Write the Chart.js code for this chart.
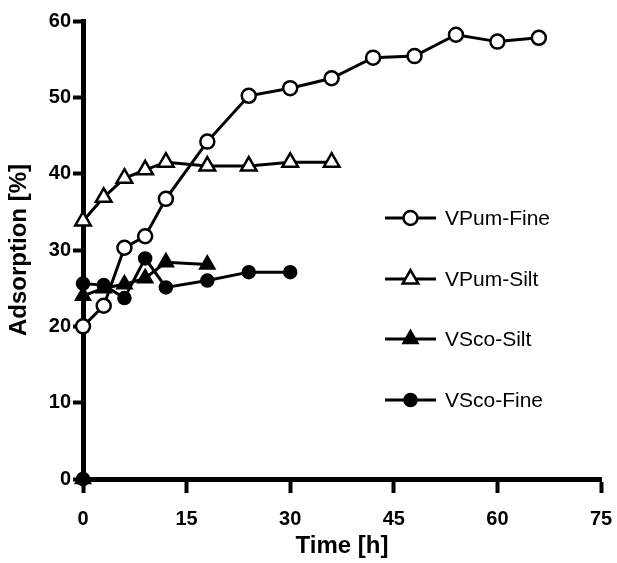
<!DOCTYPE html>
<html>
<head>
<meta charset="utf-8">
<script src="https://cdn.jsdelivr.net/npm/chart.js@4.4.0/dist/chart.umd.min.js"></script>
<style>
  html, body { margin: 0; padding: 0; background: #fff; }
</style>
</head>
<body>
<canvas id="chart" width="617" height="563"></canvas>
<script>
// --- data ---
const seriesNames = ['VPum-Fine', 'VPum-Silt', 'VSco-Silt', 'VSco-Fine'];

const vpumFineTime = [0, 3, 6, 9, 12, 18, 24, 30, 36, 42, 48, 54, 60, 66];
const vpumFine = [20, 22.7, 30.3, 31.8, 36.7, 44.2, 50.2, 51.2, 52.5, 55.2, 55.4, 58.2, 57.3, 57.8];

const vpumSiltTime = [0, 3, 6, 9, 12, 18, 24, 30, 36];
const vpumSilt = [33.8, 36.9, 39.4, 40.5, 41.5, 41.0, 41.0, 41.5, 41.5];

const vscoSiltTime = [0, 0, 3, 6, 9, 12, 18];
const vscoSilt = [0, 24, 25, 25.5, 26.3, 28.4, 28.1];

const vscoFineTime = [0, 0, 3, 6, 9, 12, 18, 24, 30];
const vscoFine = [0, 25.6, 25.4, 23.7, 28.9, 25.1, 26.0, 27.1, 27.1];

const xTicks = [0, 15, 30, 45, 60, 75];
const yTicks = [0, 10, 20, 30, 40, 50, 60];

const FONT = "Arial, 'Liberation Sans', Helvetica, sans-serif";

function toPoints(times, values) {
  return times.map((t, i) => ({ x: t, y: values[i] }));
}

function makeSet(name, times, values, style, radius, fill) {
  return {
    label: name,
    data: toPoints(times, values),
    borderColor: '#000',
    borderWidth: 3,
    pointStyle: style,
    pointRadius: radius,
    pointBorderWidth: 2.5,
    pointBorderColor: '#000',
    pointBackgroundColor: fill,
    showLine: true,
    tension: 0,
    clip: false
  };
}

function drawMarker(ctx, ds, x, y) {
  const r = ds.pointRadius;
  ctx.beginPath();
  if (ds.pointStyle === 'circle') {
    ctx.arc(x, y, r, 0, Math.PI * 2);
  } else {
    ctx.moveTo(x, y - r);
    ctx.lineTo(x + r * Math.sin(Math.PI * 2 / 3), y + r / 2);
    ctx.lineTo(x - r * Math.sin(Math.PI * 2 / 3), y + r / 2);
    ctx.closePath();
  }
  ctx.fillStyle = ds.pointBackgroundColor;
  ctx.fill();
  ctx.lineWidth = ds.pointBorderWidth;
  ctx.strokeStyle = '#000';
  ctx.stroke();
}

// legend sits inside the plot, to the right
const sideLegend = {
  id: 'sideLegend',
  afterDatasetsDraw(chart, args, opts) {
    const ctx = chart.ctx;
    chart.data.datasets.forEach((ds, i) => {
      const y = opts.rows[i];
      ctx.save();
      ctx.strokeStyle = '#000';
      ctx.lineWidth = 3;
      ctx.beginPath();
      ctx.moveTo(opts.x0, y);
      ctx.lineTo(opts.x1, y);
      ctx.stroke();
      drawMarker(ctx, ds, (opts.x0 + opts.x1) / 2, y);
      ctx.fillStyle = '#000';
      ctx.font = '21px ' + FONT;
      ctx.textBaseline = 'middle';
      ctx.fillText(ds.label, opts.textX, y + 1);
      ctx.restore();
    });
  }
};

new Chart(document.getElementById('chart'), {
  type: 'scatter',
  data: {
    datasets: [
      makeSet(seriesNames[0], vpumFineTime, vpumFine, 'circle', 7, '#fff'),
      makeSet(seriesNames[1], vpumSiltTime, vpumSilt, 'triangle', 9, '#fff'),
      makeSet(seriesNames[2], vscoSiltTime, vscoSilt, 'triangle', 8, '#000'),
      makeSet(seriesNames[3], vscoFineTime, vscoFine, 'circle', 6, '#000')
    ]
  },
  options: {
    responsive: false,
    animation: false,
    layout: { autoPadding: false, padding: { left: 0, top: 21, right: 16, bottom: 0 } },
    plugins: {
      legend: { display: false },
      tooltip: { enabled: false },
      sideLegend: { x0: 385, x1: 436, textX: 445, rows: [218, 279, 339, 400] }
    },
    scales: {
      x: {
        type: 'linear',
        min: 0,
        max: 75,
        afterBuildTicks: s => { s.ticks = xTicks.map(v => ({ value: v })); },
        afterFit: s => { s.height = 84; s.paddingLeft = 0; s.paddingRight = 0; },
        border: { display: true, color: '#000', width: 5 },
        grid: { drawOnChartArea: false, drawTicks: true, tickLength: 14, tickWidth: 4, tickColor: '#000' },
        ticks: { color: '#000', padding: 14, maxRotation: 0, font: { family: FONT, size: 20, weight: 'bold' } },
        title: {
          display: true,
          text: 'Time [h]',
          color: '#000',
          padding: { top: 0, bottom: 2 },
          font: { family: FONT, size: 24, weight: 'bold' }
        }
      },
      y: {
        type: 'linear',
        min: 0,
        max: 60,
        afterBuildTicks: s => { s.ticks = yTicks.map(v => ({ value: v })); },
        afterFit: s => { s.width = 83; s.paddingTop = 0; s.paddingBottom = 0; },
        border: { display: true, color: '#000', width: 5 },
        grid: { drawOnChartArea: false, drawTicks: true, tickLength: 10, tickWidth: 4, tickColor: '#000' },
        ticks: { color: '#000', padding: 2, font: { family: FONT, size: 20, weight: 'bold' } },
        title: {
          display: true,
          text: 'Adsorption [%]',
          color: '#000',
          padding: { top: 5, bottom: 0 },
          font: { family: FONT, size: 24, weight: 'bold' }
        }
      }
    }
  },
  plugins: [sideLegend]
});
</script>
</body>
</html>
